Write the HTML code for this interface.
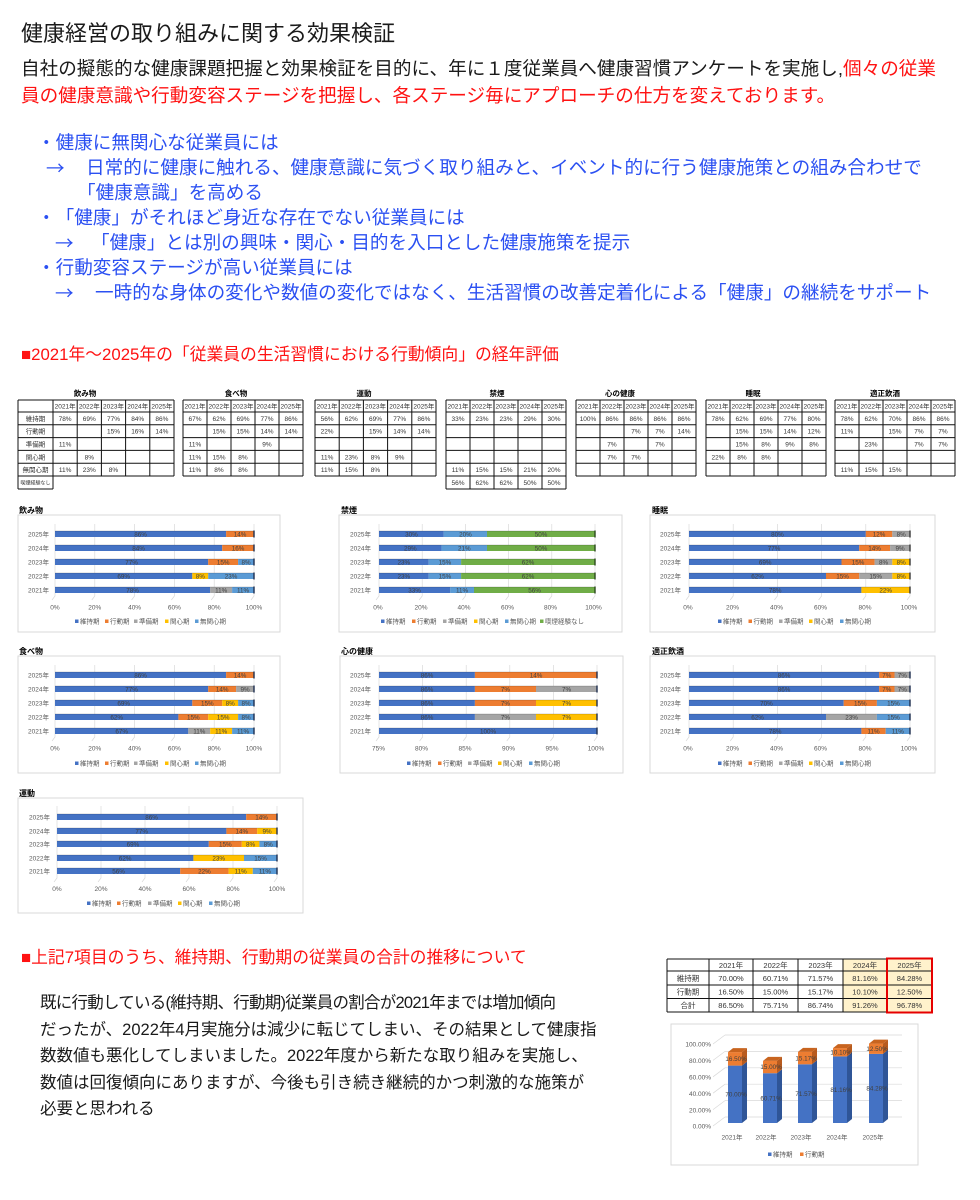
<!DOCTYPE html>
<html lang="ja">
<head>
<meta charset="utf-8">
<style>
html,body{margin:0;padding:0;background:#fff;}
body{width:980px;height:1200px;position:relative;overflow:hidden;font-family:"Liberation Sans","Noto Sans CJK JP",sans-serif;text-spacing-trim:space-all;}
.t{position:absolute;white-space:nowrap;font-family:"Liberation Sans","Noto Sans CJK JP",sans-serif;text-spacing-trim:space-all;}
.p{font-size:18.6px;line-height:26px;}
.ar{font-family:"Noto Sans CJK JP",sans-serif;}
.bl{color:#2b50f2;}
.rd{color:#ff1212;}
.bk{color:#1a1a1a;}
svg{position:absolute;left:0;top:0;}
svg text{font-family:"Liberation Sans","Noto Sans CJK JP",sans-serif;font-size:6.5px;fill:#595959;}
svg .lb{fill:#404040;text-anchor:middle;font-size:6.3px;}
svg .ax{text-anchor:middle;}
svg .yr{text-anchor:end;}
svg .tt{font-size:8px;font-weight:bold;fill:#000;}
svg .tth{font-size:7.5px;font-weight:bold;fill:#000;text-anchor:middle;}
svg .tc{font-size:6.5px;fill:#333;text-anchor:middle;}
svg .bt{font-size:7.5px;fill:#333;text-anchor:middle;}
.gr{stroke:#d9d9d9;stroke-width:.7;fill:none;}
.bx{fill:#fff;stroke:#d9d9d9;stroke-width:1;}
.tb{stroke:#111;stroke-width:1;fill:none;}
</style>
</head>
<body>

<div class="t bk" style="left:21px;top:20px;font-size:22px;line-height:28px;">健康経営の取り組みに関する効果検証</div>

<div class="t p bk" style="left:21px;top:55px;line-height:27px;">自社の擬態的な健康課題把握と効果検証を目的に、年に１度従業員へ健康習慣アンケートを実施し,<span class="rd">個々の従業</span></div>
<div class="t p rd" style="left:21px;top:82px;line-height:27px;">員の健康意識や行動変容ステージを把握し、各ステージ毎にアプローチの仕方を変えております。</div>

<div class="t p bl" style="left:37px;top:130px;">・健康に無関心な従業員には</div>
<div class="t p bl ar" style="left:46px;top:155px;">→</div>
<div class="t p bl" style="left:86px;top:155px;">日常的に健康に触れる、健康意識に気づく取り組みと、イベント的に行う健康施策との組み合わせで</div>
<div class="t p bl" style="left:77px;top:180px;">「健康意識」を高める</div>
<div class="t p bl" style="left:37px;top:205px;">・「健康」がそれほど身近な存在でない従業員には</div>
<div class="t p bl ar" style="left:55px;top:230px;">→</div>
<div class="t p bl" style="left:91px;top:230px;">「健康」とは別の興味・関心・目的を入口とした健康施策を提示</div>
<div class="t p bl" style="left:37px;top:255px;">・行動変容ステージが高い従業員には</div>
<div class="t p bl ar" style="left:55px;top:280px;">→</div>
<div class="t p bl" style="left:95px;top:280px;">一時的な身体の変化や数値の変化ではなく、生活習慣の改善定着化による「健康」の継続をサポート</div>

<div class="t rd" style="left:21px;top:344px;font-size:16.8px;line-height:22px;">■2021年～2025年の「従業員の生活習慣における行動傾向」の経年評価</div>

<div class="t rd" style="left:21px;top:947px;font-size:16.8px;line-height:22px;">■上記7項目のうち、維持期、行動期の従業員の合計の推移について</div>

<div class="t bk" style="left:40px;top:990px;font-size:16.5px;line-height:26.5px;"><span style="letter-spacing:-0.75px">既に行動している(維持期、行動期)従業員の割合が2021年までは増加傾向</span><br>だったが、2022年4月実施分は減少に転じてしまい、その結果として健康指<br>数数値も悪化してしまいました。2022年度から新たな取り組みを実施し、<br>数値は回復傾向にありますが、今後も引き続き継続的かつ刺激的な施策が<br>必要と思われる</div>

<svg width="980" height="1200" viewBox="0 0 980 1200" xmlns="http://www.w3.org/2000/svg">

<!-- ================= TABLES ================= -->
<text class="tth" x="85" y="396">飲み物</text>
<text class="tth" x="236" y="396">食べ物</text>
<text class="tth" x="364" y="396">運動</text>
<text class="tth" x="497" y="396">禁煙</text>
<text class="tth" x="620" y="396">心の健康</text>
<text class="tth" x="753" y="396">睡眠</text>
<text class="tth" x="885" y="396">適正飲酒</text>

<path class="tb" d="M18 400H53M18 412H53M18 424.8H53M18 437.6H53M18 450.4H53M18 463.2H53M18 476H53M18 489H53M18 400V489M53 400V489"/>
<text class="tc" x="35.5" y="420.9">維持期</text>
<text class="tc" x="35.5" y="433.7">行動期</text>
<text class="tc" x="35.5" y="446.5">準備期</text>
<text class="tc" x="35.5" y="459.3">関心期</text>
<text class="tc" x="35.5" y="472.1">無関心期</text>
<text class="tc" x="35.5" y="484.5" style="font-size:5px">喫煙経験なし</text>

<g transform="translate(53,0)">
<path class="tb" d="M0 400H121M0 412H121M0 424.8H121M0 437.6H121M0 450.4H121M0 463.2H121M0 476H121M0 400V476M24.2 400V476M48.4 400V476M72.6 400V476M96.8 400V476M121 400V476"/>
<text class="tc" x="12.1" y="408.5">2021年</text><text class="tc" x="36.3" y="408.5">2022年</text><text class="tc" x="60.5" y="408.5">2023年</text><text class="tc" x="84.7" y="408.5">2024年</text><text class="tc" x="108.9" y="408.5">2025年</text>
<text class="tc" x="12.1" y="420.9">78%</text><text class="tc" x="36.3" y="420.9">69%</text><text class="tc" x="60.5" y="420.9">77%</text><text class="tc" x="84.7" y="420.9">84%</text><text class="tc" x="108.9" y="420.9">86%</text>
<text class="tc" x="60.5" y="433.7">15%</text><text class="tc" x="84.7" y="433.7">16%</text><text class="tc" x="108.9" y="433.7">14%</text>
<text class="tc" x="12.1" y="446.5">11%</text>
<text class="tc" x="36.3" y="459.3">8%</text>
<text class="tc" x="12.1" y="472.1">11%</text><text class="tc" x="36.3" y="472.1">23%</text><text class="tc" x="60.5" y="472.1">8%</text>
</g>

<g transform="translate(183,0)">
<path class="tb" d="M0 400H120M0 412H120M0 424.8H120M0 437.6H120M0 450.4H120M0 463.2H120M0 476H120M0 400V476M24 400V476M48 400V476M72 400V476M96 400V476M120 400V476"/>
<text class="tc" x="12" y="408.5">2021年</text><text class="tc" x="36" y="408.5">2022年</text><text class="tc" x="60" y="408.5">2023年</text><text class="tc" x="84" y="408.5">2024年</text><text class="tc" x="108" y="408.5">2025年</text>
<text class="tc" x="12" y="420.9">67%</text><text class="tc" x="36" y="420.9">62%</text><text class="tc" x="60" y="420.9">69%</text><text class="tc" x="84" y="420.9">77%</text><text class="tc" x="108" y="420.9">86%</text>
<text class="tc" x="36" y="433.7">15%</text><text class="tc" x="60" y="433.7">15%</text><text class="tc" x="84" y="433.7">14%</text><text class="tc" x="108" y="433.7">14%</text>
<text class="tc" x="12" y="446.5">11%</text><text class="tc" x="84" y="446.5">9%</text>
<text class="tc" x="12" y="459.3">11%</text><text class="tc" x="36" y="459.3">15%</text><text class="tc" x="60" y="459.3">8%</text>
<text class="tc" x="12" y="472.1">11%</text><text class="tc" x="36" y="472.1">8%</text><text class="tc" x="60" y="472.1">8%</text>
</g>

<g transform="translate(315,0)">
<path class="tb" d="M0 400H121M0 412H121M0 424.8H121M0 437.6H121M0 450.4H121M0 463.2H121M0 476H121M0 400V476M24.2 400V476M48.4 400V476M72.6 400V476M96.8 400V476M121 400V476"/>
<text class="tc" x="12.1" y="408.5">2021年</text><text class="tc" x="36.3" y="408.5">2022年</text><text class="tc" x="60.5" y="408.5">2023年</text><text class="tc" x="84.7" y="408.5">2024年</text><text class="tc" x="108.9" y="408.5">2025年</text>
<text class="tc" x="12.1" y="420.9">56%</text><text class="tc" x="36.3" y="420.9">62%</text><text class="tc" x="60.5" y="420.9">69%</text><text class="tc" x="84.7" y="420.9">77%</text><text class="tc" x="108.9" y="420.9">86%</text>
<text class="tc" x="12.1" y="433.7">22%</text><text class="tc" x="60.5" y="433.7">15%</text><text class="tc" x="84.7" y="433.7">14%</text><text class="tc" x="108.9" y="433.7">14%</text>
<text class="tc" x="12.1" y="459.3">11%</text><text class="tc" x="36.3" y="459.3">23%</text><text class="tc" x="60.5" y="459.3">8%</text><text class="tc" x="84.7" y="459.3">9%</text>
<text class="tc" x="12.1" y="472.1">11%</text><text class="tc" x="36.3" y="472.1">15%</text><text class="tc" x="60.5" y="472.1">8%</text>
</g>

<g transform="translate(446,0)">
<path class="tb" d="M0 400H120M0 412H120M0 424.8H120M0 437.6H120M0 450.4H120M0 463.2H120M0 476H120M0 489H120M0 400V489M24 400V489M48 400V489M72 400V489M96 400V489M120 400V489"/>
<text class="tc" x="12" y="408.5">2021年</text><text class="tc" x="36" y="408.5">2022年</text><text class="tc" x="60" y="408.5">2023年</text><text class="tc" x="84" y="408.5">2024年</text><text class="tc" x="108" y="408.5">2025年</text>
<text class="tc" x="12" y="420.9">33%</text><text class="tc" x="36" y="420.9">23%</text><text class="tc" x="60" y="420.9">23%</text><text class="tc" x="84" y="420.9">29%</text><text class="tc" x="108" y="420.9">30%</text>
<text class="tc" x="12" y="472.1">11%</text><text class="tc" x="36" y="472.1">15%</text><text class="tc" x="60" y="472.1">15%</text><text class="tc" x="84" y="472.1">21%</text><text class="tc" x="108" y="472.1">20%</text>
<text class="tc" x="12" y="485">56%</text><text class="tc" x="36" y="485">62%</text><text class="tc" x="60" y="485">62%</text><text class="tc" x="84" y="485">50%</text><text class="tc" x="108" y="485">50%</text>
</g>

<g transform="translate(576,0)">
<path class="tb" d="M0 400H120M0 412H120M0 424.8H120M0 437.6H120M0 450.4H120M0 463.2H120M0 476H120M0 400V476M24 400V476M48 400V476M72 400V476M96 400V476M120 400V476"/>
<text class="tc" x="12" y="408.5">2021年</text><text class="tc" x="36" y="408.5">2022年</text><text class="tc" x="60" y="408.5">2023年</text><text class="tc" x="84" y="408.5">2024年</text><text class="tc" x="108" y="408.5">2025年</text>
<text class="tc" x="12" y="420.9">100%</text><text class="tc" x="36" y="420.9">86%</text><text class="tc" x="60" y="420.9">86%</text><text class="tc" x="84" y="420.9">86%</text><text class="tc" x="108" y="420.9">86%</text>
<text class="tc" x="60" y="433.7">7%</text><text class="tc" x="84" y="433.7">7%</text><text class="tc" x="108" y="433.7">14%</text>
<text class="tc" x="36" y="446.5">7%</text><text class="tc" x="84" y="446.5">7%</text>
<text class="tc" x="36" y="459.3">7%</text><text class="tc" x="60" y="459.3">7%</text>
</g>

<g transform="translate(706,0)">
<path class="tb" d="M0 400H120M0 412H120M0 424.8H120M0 437.6H120M0 450.4H120M0 463.2H120M0 476H120M0 400V476M24 400V476M48 400V476M72 400V476M96 400V476M120 400V476"/>
<text class="tc" x="12" y="408.5">2021年</text><text class="tc" x="36" y="408.5">2022年</text><text class="tc" x="60" y="408.5">2023年</text><text class="tc" x="84" y="408.5">2024年</text><text class="tc" x="108" y="408.5">2025年</text>
<text class="tc" x="12" y="420.9">78%</text><text class="tc" x="36" y="420.9">62%</text><text class="tc" x="60" y="420.9">69%</text><text class="tc" x="84" y="420.9">77%</text><text class="tc" x="108" y="420.9">80%</text>
<text class="tc" x="36" y="433.7">15%</text><text class="tc" x="60" y="433.7">15%</text><text class="tc" x="84" y="433.7">14%</text><text class="tc" x="108" y="433.7">12%</text>
<text class="tc" x="36" y="446.5">15%</text><text class="tc" x="60" y="446.5">8%</text><text class="tc" x="84" y="446.5">9%</text><text class="tc" x="108" y="446.5">8%</text>
<text class="tc" x="12" y="459.3">22%</text><text class="tc" x="36" y="459.3">8%</text><text class="tc" x="60" y="459.3">8%</text>
</g>

<g transform="translate(835,0)">
<path class="tb" d="M0 400H120M0 412H120M0 424.8H120M0 437.6H120M0 450.4H120M0 463.2H120M0 476H120M0 400V476M24 400V476M48 400V476M72 400V476M96 400V476M120 400V476"/>
<text class="tc" x="12" y="408.5">2021年</text><text class="tc" x="36" y="408.5">2022年</text><text class="tc" x="60" y="408.5">2023年</text><text class="tc" x="84" y="408.5">2024年</text><text class="tc" x="108" y="408.5">2025年</text>
<text class="tc" x="12" y="420.9">78%</text><text class="tc" x="36" y="420.9">62%</text><text class="tc" x="60" y="420.9">70%</text><text class="tc" x="84" y="420.9">86%</text><text class="tc" x="108" y="420.9">86%</text>
<text class="tc" x="12" y="433.7">11%</text><text class="tc" x="60" y="433.7">15%</text><text class="tc" x="84" y="433.7">7%</text><text class="tc" x="108" y="433.7">7%</text>
<text class="tc" x="36" y="446.5">23%</text><text class="tc" x="84" y="446.5">7%</text><text class="tc" x="108" y="446.5">7%</text>
<text class="tc" x="12" y="472.1">11%</text><text class="tc" x="36" y="472.1">15%</text><text class="tc" x="60" y="472.1">15%</text>
</g>

<!-- ================= CHART A 飲み物 ================= -->
<text class="tt" x="19" y="513">飲み物</text>
<rect class="bx" x="18" y="515" width="262" height="117"/>
<path class="gr" d="M55 524V596L52 600M94.8 524V596L91.8 600M134.6 524V596L131.6 600M174.4 524V596L171.4 600M214.2 524V596L211.2 600M254 524V596L251 600"/>
<rect x="55" y="531" width="171.1" height="6" fill="#4472C4"/><rect x="226.1" y="531" width="27.9" height="6" fill="#ED7D31"/>
<rect x="55" y="545" width="167.2" height="6" fill="#4472C4"/><rect x="222.2" y="545" width="31.8" height="6" fill="#ED7D31"/>
<rect x="55" y="559" width="153.2" height="6" fill="#4472C4"/><rect x="208.2" y="559" width="29.9" height="6" fill="#ED7D31"/><rect x="238.1" y="559" width="15.9" height="6" fill="#5B9BD5"/>
<rect x="55" y="573" width="137.3" height="6" fill="#4472C4"/><rect x="192.3" y="573" width="15.9" height="6" fill="#FFC000"/><rect x="208.2" y="573" width="45.8" height="6" fill="#5B9BD5"/>
<rect x="55" y="587" width="155.2" height="6" fill="#4472C4"/><rect x="210.2" y="587" width="21.9" height="6" fill="#A5A5A5"/><rect x="232.1" y="587" width="21.9" height="6" fill="#5B9BD5"/>
<path d="M55 531H254M55 545H254M55 559H254M55 573H254M55 587H254" stroke="#000" stroke-opacity=".22" stroke-width=".8"/>
<path d="M254 530.5v7M254 544.5v7M254 558.5v7M254 572.5v7M254 586.5v7" stroke="#1f2f50" stroke-width="1.4"/>
<text class="lb" x="140.6" y="536.3">86%</text><text class="lb" x="240.1" y="536.3">14%</text>
<text class="lb" x="138.6" y="550.3">84%</text><text class="lb" x="238.1" y="550.3">16%</text>
<text class="lb" x="131.6" y="564.3">77%</text><text class="lb" x="223.2" y="564.3">15%</text><text class="lb" x="246.1" y="564.3">8%</text>
<text class="lb" x="123.7" y="578.3">69%</text><text class="lb" x="200.3" y="578.3">8%</text><text class="lb" x="231.1" y="578.3">23%</text>
<text class="lb" x="132.6" y="592.3">78%</text><text class="lb" x="221.2" y="592.3">11%</text><text class="lb" x="243.1" y="592.3">11%</text>
<text class="yr" x="49" y="536.3">2025年</text><text class="yr" x="49" y="550.3">2024年</text><text class="yr" x="49" y="564.3">2023年</text><text class="yr" x="49" y="578.3">2022年</text><text class="yr" x="49" y="592.3">2021年</text>
<text class="ax" x="55" y="609.5">0%</text><text class="ax" x="94.8" y="609.5">20%</text><text class="ax" x="134.6" y="609.5">40%</text><text class="ax" x="174.4" y="609.5">60%</text><text class="ax" x="214.2" y="609.5">80%</text><text class="ax" x="254" y="609.5">100%</text>
<rect x="75" y="619.5" width="3.5" height="3.5" fill="#4472C4"/><text x="80" y="623.5">維持期</text>
<rect x="105" y="619.5" width="3.5" height="3.5" fill="#ED7D31"/><text x="110" y="623.5">行動期</text>
<rect x="134" y="619.5" width="3.5" height="3.5" fill="#A5A5A5"/><text x="139" y="623.5">準備期</text>
<rect x="165" y="619.5" width="3.5" height="3.5" fill="#FFC000"/><text x="170" y="623.5">関心期</text>
<rect x="195" y="619.5" width="3.5" height="3.5" fill="#5B9BD5"/><text x="200" y="623.5">無関心期</text>

<!-- ================= CHART D 禁煙 ================= -->
<text class="tt" x="341" y="513">禁煙</text>
<rect class="bx" x="339" y="515" width="283" height="117"/>
<path class="gr" d="M379 524V596L376 600M422.2 524V596L419.2 600M465.4 524V596L462.4 600M508.6 524V596L505.6 600M551.8 524V596L548.8 600M595 524V596L592 600"/>
<rect x="379" y="531" width="64.8" height="6" fill="#4472C4"/><rect x="443.8" y="531" width="43.2" height="6" fill="#5B9BD5"/><rect x="487" y="531" width="108" height="6" fill="#70AD47"/>
<rect x="379" y="545" width="62.6" height="6" fill="#4472C4"/><rect x="441.6" y="545" width="45.4" height="6" fill="#5B9BD5"/><rect x="487" y="545" width="108" height="6" fill="#70AD47"/>
<rect x="379" y="559" width="49.7" height="6" fill="#4472C4"/><rect x="428.7" y="559" width="32.4" height="6" fill="#5B9BD5"/><rect x="461.1" y="559" width="133.9" height="6" fill="#70AD47"/>
<rect x="379" y="573" width="49.7" height="6" fill="#4472C4"/><rect x="428.7" y="573" width="32.4" height="6" fill="#5B9BD5"/><rect x="461.1" y="573" width="133.9" height="6" fill="#70AD47"/>
<rect x="379" y="587" width="71.3" height="6" fill="#4472C4"/><rect x="450.3" y="587" width="23.7" height="6" fill="#5B9BD5"/><rect x="474" y="587" width="121" height="6" fill="#70AD47"/>
<path d="M379 531H595M379 545H595M379 559H595M379 573H595M379 587H595" stroke="#000" stroke-opacity=".22" stroke-width=".8"/>
<path d="M595 530.5v7M595 544.5v7M595 558.5v7M595 572.5v7M595 586.5v7" stroke="#2d4a1e" stroke-width="1.4"/>
<text class="lb" x="411.4" y="536.3">30%</text><text class="lb" x="465.4" y="536.3">20%</text><text class="lb" x="541" y="536.3">50%</text>
<text class="lb" x="410.3" y="550.3">29%</text><text class="lb" x="464.3" y="550.3">21%</text><text class="lb" x="541" y="550.3">50%</text>
<text class="lb" x="403.8" y="564.3">23%</text><text class="lb" x="444.9" y="564.3">15%</text><text class="lb" x="528" y="564.3">62%</text>
<text class="lb" x="403.8" y="578.3">23%</text><text class="lb" x="444.9" y="578.3">15%</text><text class="lb" x="528" y="578.3">62%</text>
<text class="lb" x="414.6" y="592.3">33%</text><text class="lb" x="462.1" y="592.3">11%</text><text class="lb" x="534.5" y="592.3">56%</text>
<text class="yr" x="371" y="536.3">2025年</text><text class="yr" x="371" y="550.3">2024年</text><text class="yr" x="371" y="564.3">2023年</text><text class="yr" x="371" y="578.3">2022年</text><text class="yr" x="371" y="592.3">2021年</text>
<text class="ax" x="378" y="609.5">0%</text><text class="ax" x="421" y="609.5">20%</text><text class="ax" x="464" y="609.5">40%</text><text class="ax" x="507.5" y="609.5">60%</text><text class="ax" x="550.5" y="609.5">80%</text><text class="ax" x="593.5" y="609.5">100%</text>
<rect x="381" y="619.5" width="3.5" height="3.5" fill="#4472C4"/><text x="386" y="623.5">維持期</text>
<rect x="412" y="619.5" width="3.5" height="3.5" fill="#ED7D31"/><text x="417" y="623.5">行動期</text>
<rect x="443" y="619.5" width="3.5" height="3.5" fill="#A5A5A5"/><text x="448" y="623.5">準備期</text>
<rect x="474" y="619.5" width="3.5" height="3.5" fill="#FFC000"/><text x="479" y="623.5">関心期</text>
<rect x="505" y="619.5" width="3.5" height="3.5" fill="#5B9BD5"/><text x="510" y="623.5">無関心期</text>
<rect x="540" y="619.5" width="3.5" height="3.5" fill="#70AD47"/><text x="545" y="623.5">喫煙経験なし</text>

<!-- ================= CHART F 睡眠 ================= -->
<text class="tt" x="652" y="513">睡眠</text>
<rect class="bx" x="650" y="515" width="285" height="117"/>
<path class="gr" d="M689 524V596L686 600M733.2 524V596L730.2 600M777.4 524V596L774.4 600M821.6 524V596L818.6 600M865.8 524V596L862.8 600M910 524V596L907 600"/>
<rect x="689" y="531" width="176.8" height="6" fill="#4472C4"/><rect x="865.8" y="531" width="26.5" height="6" fill="#ED7D31"/><rect x="892.3" y="531" width="17.7" height="6" fill="#A5A5A5"/>
<rect x="689" y="545" width="170.2" height="6" fill="#4472C4"/><rect x="859.2" y="545" width="30.9" height="6" fill="#ED7D31"/><rect x="890.1" y="545" width="19.9" height="6" fill="#A5A5A5"/>
<rect x="689" y="559" width="152.5" height="6" fill="#4472C4"/><rect x="841.5" y="559" width="33.1" height="6" fill="#ED7D31"/><rect x="874.6" y="559" width="17.7" height="6" fill="#A5A5A5"/><rect x="892.3" y="559" width="17.7" height="6" fill="#FFC000"/>
<rect x="689" y="573" width="137" height="6" fill="#4472C4"/><rect x="826" y="573" width="33.2" height="6" fill="#ED7D31"/><rect x="859.2" y="573" width="33.1" height="6" fill="#A5A5A5"/><rect x="892.3" y="573" width="17.7" height="6" fill="#FFC000"/>
<rect x="689" y="587" width="172.4" height="6" fill="#4472C4"/><rect x="861.4" y="587" width="48.6" height="6" fill="#FFC000"/>
<path d="M689 531H910M689 545H910M689 559H910M689 573H910M689 587H910" stroke="#000" stroke-opacity=".22" stroke-width=".8"/>
<path d="M910 530.5v7M910 544.5v7M910 558.5v7M910 572.5v7M910 586.5v7" stroke="#3a3a3a" stroke-width="1.4"/>
<text class="lb" x="777.4" y="536.3">80%</text><text class="lb" x="879" y="536.3">12%</text><text class="lb" x="901.2" y="536.3">8%</text>
<text class="lb" x="774.1" y="550.3">77%</text><text class="lb" x="874.6" y="550.3">14%</text><text class="lb" x="900" y="550.3">9%</text>
<text class="lb" x="765.2" y="564.3">69%</text><text class="lb" x="858" y="564.3">15%</text><text class="lb" x="883.5" y="564.3">8%</text><text class="lb" x="901.2" y="564.3">8%</text>
<text class="lb" x="757.5" y="578.3">62%</text><text class="lb" x="842.6" y="578.3">15%</text><text class="lb" x="875.7" y="578.3">15%</text><text class="lb" x="901.2" y="578.3">8%</text>
<text class="lb" x="775.2" y="592.3">78%</text><text class="lb" x="885.7" y="592.3">22%</text>
<text class="yr" x="681" y="536.3">2025年</text><text class="yr" x="681" y="550.3">2024年</text><text class="yr" x="681" y="564.3">2023年</text><text class="yr" x="681" y="578.3">2022年</text><text class="yr" x="681" y="592.3">2021年</text>
<text class="ax" x="688" y="609.5">0%</text><text class="ax" x="732.5" y="609.5">20%</text><text class="ax" x="776.5" y="609.5">40%</text><text class="ax" x="820.5" y="609.5">60%</text><text class="ax" x="865" y="609.5">80%</text><text class="ax" x="909" y="609.5">100%</text>
<rect x="718" y="619.5" width="3.5" height="3.5" fill="#4472C4"/><text x="723" y="623.5">維持期</text>
<rect x="748.5" y="619.5" width="3.5" height="3.5" fill="#ED7D31"/><text x="753.5" y="623.5">行動期</text>
<rect x="779" y="619.5" width="3.5" height="3.5" fill="#A5A5A5"/><text x="784" y="623.5">準備期</text>
<rect x="809" y="619.5" width="3.5" height="3.5" fill="#FFC000"/><text x="814" y="623.5">関心期</text>
<rect x="840" y="619.5" width="3.5" height="3.5" fill="#5B9BD5"/><text x="845" y="623.5">無関心期</text>

<!-- ================= CHART B 食べ物 ================= -->
<text class="tt" x="19" y="654">食べ物</text>
<rect class="bx" x="18" y="656" width="262" height="117"/>
<path class="gr" d="M55 665V737L52 741M94.8 665V737L91.8 741M134.6 665V737L131.6 741M174.4 665V737L171.4 741M214.2 665V737L211.2 741M254 665V737L251 741"/>
<rect x="55" y="672" width="171.1" height="6" fill="#4472C4"/><rect x="226.1" y="672" width="27.9" height="6" fill="#ED7D31"/>
<rect x="55" y="686" width="153.2" height="6" fill="#4472C4"/><rect x="208.2" y="686" width="27.9" height="6" fill="#ED7D31"/><rect x="236.1" y="686" width="17.9" height="6" fill="#A5A5A5"/>
<rect x="55" y="700" width="137.3" height="6" fill="#4472C4"/><rect x="192.3" y="700" width="29.9" height="6" fill="#ED7D31"/><rect x="222.2" y="700" width="15.9" height="6" fill="#FFC000"/><rect x="238.1" y="700" width="15.9" height="6" fill="#5B9BD5"/>
<rect x="55" y="714" width="123.4" height="6" fill="#4472C4"/><rect x="178.4" y="714" width="29.8" height="6" fill="#ED7D31"/><rect x="208.2" y="714" width="29.9" height="6" fill="#FFC000"/><rect x="238.1" y="714" width="15.9" height="6" fill="#5B9BD5"/>
<rect x="55" y="728" width="133.3" height="6" fill="#4472C4"/><rect x="188.3" y="728" width="21.9" height="6" fill="#A5A5A5"/><rect x="210.2" y="728" width="21.9" height="6" fill="#FFC000"/><rect x="232.1" y="728" width="21.9" height="6" fill="#5B9BD5"/>
<path d="M55 672H254M55 686H254M55 700H254M55 714H254M55 728H254" stroke="#000" stroke-opacity=".22" stroke-width=".8"/>
<path d="M254 671.5v7M254 685.5v7M254 699.5v7M254 713.5v7M254 727.5v7" stroke="#1f2f50" stroke-width="1.4"/>
<text class="lb" x="140.6" y="677.3">86%</text><text class="lb" x="240.1" y="677.3">14%</text>
<text class="lb" x="131.6" y="691.3">77%</text><text class="lb" x="222.2" y="691.3">14%</text><text class="lb" x="245.1" y="691.3">9%</text>
<text class="lb" x="123.7" y="705.3">69%</text><text class="lb" x="207.3" y="705.3">15%</text><text class="lb" x="230.2" y="705.3">8%</text><text class="lb" x="246.1" y="705.3">8%</text>
<text class="lb" x="116.7" y="719.3">62%</text><text class="lb" x="193.3" y="719.3">15%</text><text class="lb" x="223.2" y="719.3">15%</text><text class="lb" x="246.1" y="719.3">8%</text>
<text class="lb" x="121.7" y="733.3">67%</text><text class="lb" x="199.3" y="733.3">11%</text><text class="lb" x="221.2" y="733.3">11%</text><text class="lb" x="243.1" y="733.3">11%</text>
<text class="yr" x="49" y="677.3">2025年</text><text class="yr" x="49" y="691.3">2024年</text><text class="yr" x="49" y="705.3">2023年</text><text class="yr" x="49" y="719.3">2022年</text><text class="yr" x="49" y="733.3">2021年</text>
<text class="ax" x="55" y="750.5">0%</text><text class="ax" x="94.8" y="750.5">20%</text><text class="ax" x="134.6" y="750.5">40%</text><text class="ax" x="174.4" y="750.5">60%</text><text class="ax" x="214.2" y="750.5">80%</text><text class="ax" x="254" y="750.5">100%</text>
<rect x="75" y="761.5" width="3.5" height="3.5" fill="#4472C4"/><text x="80" y="765.5">維持期</text>
<rect x="105" y="761.5" width="3.5" height="3.5" fill="#ED7D31"/><text x="110" y="765.5">行動期</text>
<rect x="134" y="761.5" width="3.5" height="3.5" fill="#A5A5A5"/><text x="139" y="765.5">準備期</text>
<rect x="165" y="761.5" width="3.5" height="3.5" fill="#FFC000"/><text x="170" y="765.5">関心期</text>
<rect x="195" y="761.5" width="3.5" height="3.5" fill="#5B9BD5"/><text x="200" y="765.5">無関心期</text>

<!-- ================= CHART E 心の健康 ================= -->
<text class="tt" x="341" y="654">心の健康</text>
<rect class="bx" x="340" y="656" width="283" height="117"/>
<path class="gr" d="M379 665V737L376 741M422.6 665V737L419.6 741M466.2 665V737L463.2 741M509.8 665V737L506.8 741M553.4 665V737L550.4 741M597 665V737L594 741"/>
<rect x="379" y="672" width="95.9" height="6" fill="#4472C4"/><rect x="474.9" y="672" width="122.1" height="6" fill="#ED7D31"/>
<rect x="379" y="686" width="95.9" height="6" fill="#4472C4"/><rect x="474.9" y="686" width="61.1" height="6" fill="#ED7D31"/><rect x="536" y="686" width="61" height="6" fill="#A5A5A5"/>
<rect x="379" y="700" width="95.9" height="6" fill="#4472C4"/><rect x="474.9" y="700" width="61.1" height="6" fill="#ED7D31"/><rect x="536" y="700" width="61" height="6" fill="#FFC000"/>
<rect x="379" y="714" width="95.9" height="6" fill="#4472C4"/><rect x="474.9" y="714" width="61.1" height="6" fill="#A5A5A5"/><rect x="536" y="714" width="61" height="6" fill="#FFC000"/>
<rect x="379" y="728" width="218" height="6" fill="#4472C4"/>
<path d="M379 672H597M379 686H597M379 700H597M379 714H597M379 728H597" stroke="#000" stroke-opacity=".22" stroke-width=".8"/>
<path d="M597 671.5v7M597 685.5v7M597 699.5v7M597 713.5v7M597 727.5v7" stroke="#1f2f50" stroke-width="1.4"/>
<text class="lb" x="427" y="677.3">86%</text><text class="lb" x="536" y="677.3">14%</text>
<text class="lb" x="427" y="691.3">86%</text><text class="lb" x="505.4" y="691.3">7%</text><text class="lb" x="566.5" y="691.3">7%</text>
<text class="lb" x="427" y="705.3">86%</text><text class="lb" x="505.4" y="705.3">7%</text><text class="lb" x="566.5" y="705.3">7%</text>
<text class="lb" x="427" y="719.3">86%</text><text class="lb" x="505.4" y="719.3">7%</text><text class="lb" x="566.5" y="719.3">7%</text>
<text class="lb" x="488" y="733.3">100%</text>
<text class="yr" x="371" y="677.3">2025年</text><text class="yr" x="371" y="691.3">2024年</text><text class="yr" x="371" y="705.3">2023年</text><text class="yr" x="371" y="719.3">2022年</text><text class="yr" x="371" y="733.3">2021年</text>
<text class="ax" x="378.5" y="750.5">75%</text><text class="ax" x="421.5" y="750.5">80%</text><text class="ax" x="465" y="750.5">85%</text><text class="ax" x="508.5" y="750.5">90%</text><text class="ax" x="552" y="750.5">95%</text><text class="ax" x="596" y="750.5">100%</text>
<rect x="407" y="761.5" width="3.5" height="3.5" fill="#4472C4"/><text x="412" y="765.5">維持期</text>
<rect x="438" y="761.5" width="3.5" height="3.5" fill="#ED7D31"/><text x="443" y="765.5">行動期</text>
<rect x="468" y="761.5" width="3.5" height="3.5" fill="#A5A5A5"/><text x="473" y="765.5">準備期</text>
<rect x="498" y="761.5" width="3.5" height="3.5" fill="#FFC000"/><text x="503" y="765.5">関心期</text>
<rect x="529" y="761.5" width="3.5" height="3.5" fill="#5B9BD5"/><text x="534" y="765.5">無関心期</text>

<!-- ================= CHART G 適正飲酒 ================= -->
<text class="tt" x="652" y="654">適正飲酒</text>
<rect class="bx" x="650" y="656" width="285" height="117"/>
<path class="gr" d="M689 665V737L686 741M733.2 665V737L730.2 741M777.4 665V737L774.4 741M821.6 665V737L818.6 741M865.8 665V737L862.8 741M910 665V737L907 741"/>
<rect x="689" y="672" width="190.1" height="6" fill="#4472C4"/><rect x="879.1" y="672" width="15.4" height="6" fill="#ED7D31"/><rect x="894.5" y="672" width="15.5" height="6" fill="#A5A5A5"/>
<rect x="689" y="686" width="190.1" height="6" fill="#4472C4"/><rect x="879.1" y="686" width="15.4" height="6" fill="#ED7D31"/><rect x="894.5" y="686" width="15.5" height="6" fill="#A5A5A5"/>
<rect x="689" y="700" width="154.7" height="6" fill="#4472C4"/><rect x="843.7" y="700" width="33.2" height="6" fill="#ED7D31"/><rect x="876.9" y="700" width="33.1" height="6" fill="#5B9BD5"/>
<rect x="689" y="714" width="137" height="6" fill="#4472C4"/><rect x="826" y="714" width="50.9" height="6" fill="#A5A5A5"/><rect x="876.9" y="714" width="33.1" height="6" fill="#5B9BD5"/>
<rect x="689" y="728" width="172.4" height="6" fill="#4472C4"/><rect x="861.4" y="728" width="24.3" height="6" fill="#ED7D31"/><rect x="885.7" y="728" width="24.3" height="6" fill="#5B9BD5"/>
<path d="M689 672H910M689 686H910M689 700H910M689 714H910M689 728H910" stroke="#000" stroke-opacity=".22" stroke-width=".8"/>
<path d="M910 671.5v7M910 685.5v7M910 699.5v7M910 713.5v7M910 727.5v7" stroke="#1f2f50" stroke-width="1.4"/>
<text class="lb" x="784" y="677.3">86%</text><text class="lb" x="886.8" y="677.3">7%</text><text class="lb" x="902.3" y="677.3">7%</text>
<text class="lb" x="784" y="691.3">86%</text><text class="lb" x="886.8" y="691.3">7%</text><text class="lb" x="902.3" y="691.3">7%</text>
<text class="lb" x="766.4" y="705.3">70%</text><text class="lb" x="860.3" y="705.3">15%</text><text class="lb" x="893.4" y="705.3">15%</text>
<text class="lb" x="757.5" y="719.3">62%</text><text class="lb" x="851.5" y="719.3">23%</text><text class="lb" x="893.4" y="719.3">15%</text>
<text class="lb" x="775.2" y="733.3">78%</text><text class="lb" x="873.6" y="733.3">11%</text><text class="lb" x="897.8" y="733.3">11%</text>
<text class="yr" x="681" y="677.3">2025年</text><text class="yr" x="681" y="691.3">2024年</text><text class="yr" x="681" y="705.3">2023年</text><text class="yr" x="681" y="719.3">2022年</text><text class="yr" x="681" y="733.3">2021年</text>
<text class="ax" x="688" y="750.5">0%</text><text class="ax" x="732.5" y="750.5">20%</text><text class="ax" x="776.5" y="750.5">40%</text><text class="ax" x="820.5" y="750.5">60%</text><text class="ax" x="865" y="750.5">80%</text><text class="ax" x="909" y="750.5">100%</text>
<rect x="718" y="761.5" width="3.5" height="3.5" fill="#4472C4"/><text x="723" y="765.5">維持期</text>
<rect x="748.5" y="761.5" width="3.5" height="3.5" fill="#ED7D31"/><text x="753.5" y="765.5">行動期</text>
<rect x="779" y="761.5" width="3.5" height="3.5" fill="#A5A5A5"/><text x="784" y="765.5">準備期</text>
<rect x="809" y="761.5" width="3.5" height="3.5" fill="#FFC000"/><text x="814" y="765.5">関心期</text>
<rect x="840" y="761.5" width="3.5" height="3.5" fill="#5B9BD5"/><text x="845" y="765.5">無関心期</text>

<!-- ================= CHART C 運動 ================= -->
<text class="tt" x="19" y="796">運動</text>
<rect class="bx" x="18" y="798" width="285" height="115"/>
<path class="gr" d="M57 806V878L54 882M101 806V878L98 882M145 806V878L142 882M189 806V878L186 882M233 806V878L230 882M277 806V878L274 882"/>
<rect x="57" y="814" width="189.2" height="6" fill="#4472C4"/><rect x="246.2" y="814" width="30.8" height="6" fill="#ED7D31"/>
<rect x="57" y="828" width="169.4" height="6" fill="#4472C4"/><rect x="226.4" y="828" width="30.8" height="6" fill="#ED7D31"/><rect x="257.2" y="828" width="19.8" height="6" fill="#FFC000"/>
<rect x="57" y="841" width="151.8" height="6" fill="#4472C4"/><rect x="208.8" y="841" width="33" height="6" fill="#ED7D31"/><rect x="241.8" y="841" width="17.6" height="6" fill="#FFC000"/><rect x="259.4" y="841" width="17.6" height="6" fill="#5B9BD5"/>
<rect x="57" y="855" width="136.4" height="6" fill="#4472C4"/><rect x="193.4" y="855" width="50.6" height="6" fill="#FFC000"/><rect x="244" y="855" width="33" height="6" fill="#5B9BD5"/>
<rect x="57" y="868" width="123.2" height="6" fill="#4472C4"/><rect x="180.2" y="868" width="48.4" height="6" fill="#ED7D31"/><rect x="228.6" y="868" width="24.2" height="6" fill="#FFC000"/><rect x="252.8" y="868" width="24.2" height="6" fill="#5B9BD5"/>
<path d="M57 814H277M57 828H277M57 841H277M57 855H277M57 868H277" stroke="#000" stroke-opacity=".22" stroke-width=".8"/>
<path d="M277 813.5v7M277 827.5v7M277 840.5v7M277 854.5v7M277 867.5v7" stroke="#1f2f50" stroke-width="1.4"/>
<text class="lb" x="151.6" y="819.3">86%</text><text class="lb" x="261.6" y="819.3">14%</text>
<text class="lb" x="141.7" y="833.3">77%</text><text class="lb" x="241.8" y="833.3">14%</text><text class="lb" x="267.1" y="833.3">9%</text>
<text class="lb" x="132.9" y="846.3">69%</text><text class="lb" x="225.3" y="846.3">15%</text><text class="lb" x="250.6" y="846.3">8%</text><text class="lb" x="268.2" y="846.3">8%</text>
<text class="lb" x="125.2" y="860.3">62%</text><text class="lb" x="218.7" y="860.3">23%</text><text class="lb" x="260.5" y="860.3">15%</text>
<text class="lb" x="118.6" y="873.3">56%</text><text class="lb" x="204.4" y="873.3">22%</text><text class="lb" x="240.7" y="873.3">11%</text><text class="lb" x="264.9" y="873.3">11%</text>
<text class="yr" x="50" y="819.3">2025年</text><text class="yr" x="50" y="833.3">2024年</text><text class="yr" x="50" y="846.3">2023年</text><text class="yr" x="50" y="860.3">2022年</text><text class="yr" x="50" y="873.3">2021年</text>
<text class="ax" x="57" y="891">0%</text><text class="ax" x="101" y="891">20%</text><text class="ax" x="145" y="891">40%</text><text class="ax" x="189" y="891">60%</text><text class="ax" x="233" y="891">80%</text><text class="ax" x="277" y="891">100%</text>
<rect x="87" y="901.5" width="3.5" height="3.5" fill="#4472C4"/><text x="92" y="905.5">維持期</text>
<rect x="117" y="901.5" width="3.5" height="3.5" fill="#ED7D31"/><text x="122" y="905.5">行動期</text>
<rect x="148" y="901.5" width="3.5" height="3.5" fill="#A5A5A5"/><text x="153" y="905.5">準備期</text>
<rect x="178" y="901.5" width="3.5" height="3.5" fill="#FFC000"/><text x="183" y="905.5">関心期</text>
<rect x="209" y="901.5" width="3.5" height="3.5" fill="#5B9BD5"/><text x="214" y="905.5">無関心期</text>

<!-- ================= BOTTOM TABLE ================= -->
<rect x="843" y="959" width="89" height="53" fill="#FFF2CC"/>
<path class="tb" d="M667 959H932M667 971H932M667 985H932M667 998.5H932M667 1012H932M667 959V1012M709 959V1012M753 959V1012M798 959V1012M843 959V1012M887 959V1012M932 959V1012"/>
<rect x="887" y="958.5" width="45" height="54" fill="none" stroke="#e60000" stroke-width="2"/>
<text class="bt" x="731" y="967.8">2021年</text><text class="bt" x="775.5" y="967.8">2022年</text><text class="bt" x="820.5" y="967.8">2023年</text><text class="bt" x="865" y="967.8">2024年</text><text class="bt" x="909.5" y="967.8">2025年</text>
<text class="bt" x="688" y="980.8">維持期</text><text class="bt" x="731" y="980.8">70.00%</text><text class="bt" x="775.5" y="980.8">60.71%</text><text class="bt" x="820.5" y="980.8">71.57%</text><text class="bt" x="865" y="980.8">81.16%</text><text class="bt" x="909.5" y="980.8">84.28%</text>
<text class="bt" x="688" y="994.6">行動期</text><text class="bt" x="731" y="994.6">16.50%</text><text class="bt" x="775.5" y="994.6">15.00%</text><text class="bt" x="820.5" y="994.6">15.17%</text><text class="bt" x="865" y="994.6">10.10%</text><text class="bt" x="909.5" y="994.6">12.50%</text>
<text class="bt" x="688" y="1008.1">合計</text><text class="bt" x="731" y="1008.1">86.50%</text><text class="bt" x="775.5" y="1008.1">75.71%</text><text class="bt" x="820.5" y="1008.1">86.74%</text><text class="bt" x="865" y="1008.1">91.26%</text><text class="bt" x="909.5" y="1008.1">96.78%</text>

<!-- ================= 3D COLUMN CHART ================= -->
<rect class="bx" x="671" y="1024" width="247" height="141"/>
<path class="gr" d="M725 1035H902M725 1051.4H902M725 1067.8H902M725 1084.2H902M725 1100.6H902M725 1117H902M713 1044L725 1035M713 1060.4L725 1051.4M713 1076.8L725 1067.8M713 1093.2L725 1084.2M713 1109.6L725 1100.6M713 1126L725 1117"/>
<text class="yr" x="711" y="1046.3">100.00%</text><text class="yr" x="711" y="1062.8">80.00%</text><text class="yr" x="711" y="1079.3">60.00%</text><text class="yr" x="711" y="1095.8">40.00%</text><text class="yr" x="711" y="1112.3">20.00%</text><text class="yr" x="711" y="1128.3">0.00%</text>

<rect x="728" y="1065.6" width="14" height="57.4" fill="#4472C4"/>
<rect x="728" y="1052.1" width="14" height="13.5" fill="#ED7D31"/>
<polygon points="742,1123 747,1119 747,1061.6 742,1065.6" fill="#2F5597"/>
<polygon points="742,1065.6 747,1061.6 747,1048.1 742,1052.1" fill="#B85B1E"/>
<polygon points="728,1052.1 733,1048.1 747,1048.1 742,1052.1" fill="#C8641F"/>

<rect x="763" y="1073.2" width="14" height="49.8" fill="#4472C4"/>
<rect x="763" y="1060.9" width="14" height="12.3" fill="#ED7D31"/>
<polygon points="777,1123 782,1119 782,1069.2 777,1073.2" fill="#2F5597"/>
<polygon points="777,1073.2 782,1069.2 782,1056.9 777,1060.9" fill="#B85B1E"/>
<polygon points="763,1060.9 768,1056.9 782,1056.9 777,1060.9" fill="#C8641F"/>

<rect x="798" y="1064.3" width="14" height="58.7" fill="#4472C4"/>
<rect x="798" y="1051.9" width="14" height="12.4" fill="#ED7D31"/>
<polygon points="812,1123 817,1119 817,1060.3 812,1064.3" fill="#2F5597"/>
<polygon points="812,1064.3 817,1060.3 817,1047.9 812,1051.9" fill="#B85B1E"/>
<polygon points="798,1051.9 803,1047.9 817,1047.9 812,1051.9" fill="#C8641F"/>

<rect x="833" y="1056.4" width="14" height="66.6" fill="#4472C4"/>
<rect x="833" y="1048.1" width="14" height="8.3" fill="#ED7D31"/>
<polygon points="847,1123 852,1119 852,1052.4 847,1056.4" fill="#2F5597"/>
<polygon points="847,1056.4 852,1052.4 852,1044.1 847,1048.1" fill="#B85B1E"/>
<polygon points="833,1048.1 838,1044.1 852,1044.1 847,1048.1" fill="#C8641F"/>

<rect x="869" y="1053.9" width="14" height="69.1" fill="#4472C4"/>
<rect x="869" y="1043.6" width="14" height="10.3" fill="#ED7D31"/>
<polygon points="883,1123 888,1119 888,1049.9 883,1053.9" fill="#2F5597"/>
<polygon points="883,1053.9 888,1049.9 888,1039.6 883,1043.6" fill="#B85B1E"/>
<polygon points="869,1043.6 874,1039.6 888,1039.6 883,1043.6" fill="#C8641F"/>

<text class="lb" x="736" y="1096.5">70.00%</text><text class="lb" x="736" y="1061">16.50%</text>
<text class="lb" x="771" y="1100.3">60.71%</text><text class="lb" x="771" y="1069.2">15.00%</text>
<text class="lb" x="806" y="1095.9">71.57%</text><text class="lb" x="806" y="1060.3">15.17%</text>
<text class="lb" x="841" y="1091.9">81.16%</text><text class="lb" x="841" y="1054.5">10.10%</text>
<text class="lb" x="877" y="1090.7">84.28%</text><text class="lb" x="877" y="1051">12.50%</text>

<text class="ax" x="732" y="1139.5">2021年</text><text class="ax" x="766" y="1139.5">2022年</text><text class="ax" x="801" y="1139.5">2023年</text><text class="ax" x="837" y="1139.5">2024年</text><text class="ax" x="873" y="1139.5">2025年</text>
<rect x="768" y="1152.5" width="3.5" height="3.5" fill="#4472C4"/><text x="773" y="1156.5">維持期</text>
<rect x="800" y="1152.5" width="3.5" height="3.5" fill="#ED7D31"/><text x="805" y="1156.5">行動期</text>

</svg>
</body>
</html>
